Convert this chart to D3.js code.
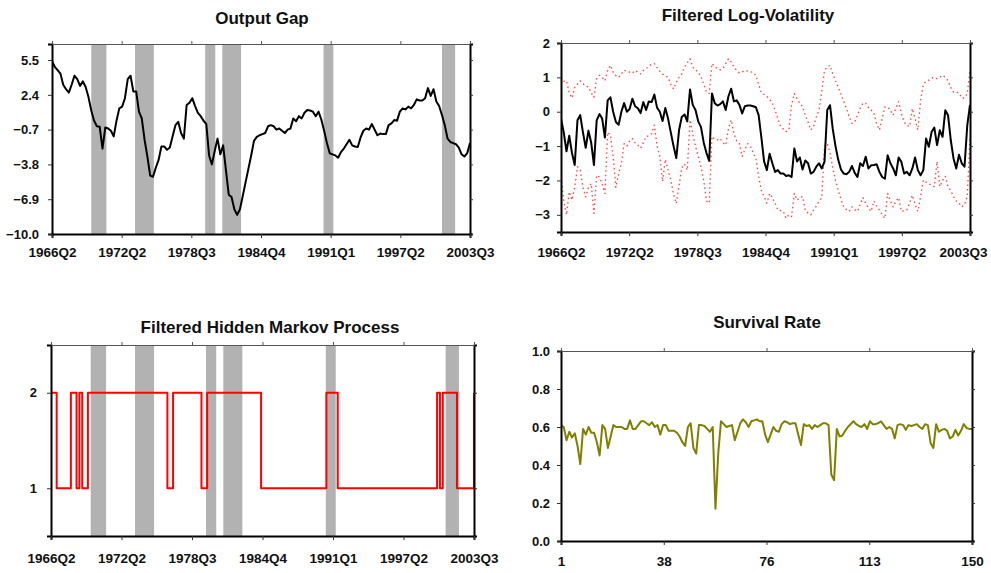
<!DOCTYPE html>
<html><head><meta charset="utf-8">
<script src="https://cdn.jsdelivr.net/npm/d3@7/dist/d3.min.js"></script>
<style>
body{margin:0;background:#fff}
svg{display:block}
text{font-family:"Liberation Sans",Arial,sans-serif;font-weight:bold;fill:#111}
</style>
</head><body>
<svg id="chart" width="991" height="573"></svg>
<script>
// ---------- data ----------
const dateTickLabels = ["1966Q2","1972Q2","1978Q3","1984Q4","1991Q1","1997Q2","2003Q3"];
const gapTicks = [-10.0,-6.9,-3.8,-0.7,2.4,5.5];
const volTicks = [-3,-2,-1,0,1,2];
const stateTicks = [1,2];
const survTicks = [0.0,0.2,0.4,0.6,0.8,1.0];
const survXTickLabels = [1,38,76,113,150];

// recession periods (start / end, quarter index from 1966Q2)
const recessions = [[14.0,19.4],[29.6,36.3],[54.6,58.2],[60.7,67.4],[96.8,100.3],[139.0,143.7]];

const outputGap = [5.4,4.9,4.6,4.3,3.3,2.9,2.6,3.3,4.1,3.8,3.2,3.6,3.1,2.2,1.0,0.1,-0.4,-0.45,-2.4,-0.5,
 -0.6,-0.8,-1.3,0.1,1.2,1.35,2.1,3.8,4.1,2.7,2.7,0.9,0.3,-1.6,-3.1,-4.8,-4.9,-4.1,-3.4,-2.2,
 -2.2,-2.5,-2.3,-1.3,-0.3,0.0,-1.0,-1.5,1.5,1.7,2.1,1.4,0.8,0.5,0.1,-0.2,-3.0,-3.8,-2.6,-1.5,
 -2.9,-2.1,-4.3,-6.5,-6.7,-7.8,-8.3,-7.8,-6.6,-5.4,-4.2,-3.0,-1.7,-1.35,-1.2,-1.1,-1.0,-0.4,-0.3,-0.4,
 -0.7,-0.6,-0.8,-1.0,-0.7,-0.6,0.3,0.05,0.5,0.3,0.8,1.05,1.0,0.9,0.5,0.9,0.2,-0.8,-1.9,-2.8,
 -2.9,-3.0,-3.2,-2.7,-2.4,-2.0,-1.6,-2.1,-2.2,-2.25,-1.4,-0.8,-0.6,-0.7,-0.2,-0.7,-1.2,-1.05,-1.1,-1.1,
 -0.3,-0.15,0.15,0.1,0.9,1.2,1.1,1.35,1.2,1.5,2.0,1.9,1.9,2.1,3.0,2.3,2.9,1.8,1.4,0.6,
 -0.3,-1.5,-1.8,-1.9,-2.0,-2.3,-2.9,-3.1,-2.8,-1.9];

const logVol = [-0.2,-0.6,-1.15,-0.7,-1.2,-1.55,-0.25,-0.1,-0.6,-1.05,-0.55,-0.9,-1.55,-0.25,-0.07,-0.2,-0.75,0.33,0.42,0.0,
 -0.3,-0.38,0.0,0.25,0.0,0.08,0.38,0.16,0.1,-0.04,0.28,0.05,0.3,0.28,0.5,0.12,0.0,-0.27,0.11,-0.2,
 -0.6,-1.0,-1.35,-0.54,-0.15,-0.08,-0.28,0.65,0.2,0.05,-0.28,-0.45,-0.9,-1.2,-1.43,0.53,0.25,0.18,0.22,0.3,
 0.05,0.45,0.67,0.3,0.33,0.2,-0.05,0.16,0.18,0.18,0.16,0.13,-0.1,-0.75,-1.45,-1.7,-1.22,-1.5,-1.75,-1.7,
 -1.8,-1.8,-1.87,-1.85,-1.9,-1.07,-1.45,-1.33,-1.68,-1.42,-1.5,-1.8,-1.75,-1.6,-1.5,-1.65,-1.45,0.05,0.19,-0.5,
 -1.0,-1.4,-1.68,-1.8,-1.82,-1.75,-1.58,-1.78,-1.9,-1.5,-1.58,-1.31,-1.65,-1.56,-1.55,-1.53,-1.75,-1.9,-1.95,-1.27,
 -1.5,-1.65,-1.85,-1.33,-1.46,-1.8,-1.75,-1.85,-1.65,-1.33,-1.7,-1.85,-1.7,-0.78,-1.02,-0.59,-0.46,-0.97,-0.54,-0.73,
 0.04,-0.1,-0.83,-1.36,-1.65,-1.25,-1.5,-1.6,-0.4,0.2];

const logVolUpper = [1.0,0.88,0.9,0.55,0.4,0.7,0.8,0.9,0.82,0.75,0.72,0.55,0.42,0.96,1.06,1.0,0.9,1.2,1.35,1.15,
 1.05,1.0,1.1,1.21,1.18,1.15,1.12,1.2,1.15,1.1,1.2,1.25,1.33,1.38,1.4,1.28,1.18,1.1,1.05,1.0,
 0.8,0.66,0.85,1.0,1.1,1.3,1.42,1.54,1.3,1.22,1.15,1.02,0.8,0.57,0.53,1.4,1.32,1.25,1.22,1.25,
 1.4,1.54,1.45,1.3,1.2,1.13,1.16,1.2,1.18,1.16,1.15,1.05,0.8,0.55,0.5,0.45,0.36,0.25,0.05,-0.2,
 -0.43,-0.5,-0.58,-0.53,0.2,0.53,0.38,0.25,0.15,-0.1,-0.3,-0.53,-0.43,-0.15,0.05,0.6,1.2,1.3,1.35,1.1,
 0.9,0.72,0.5,0.3,0.1,-0.15,-0.34,-0.3,-0.1,0.1,0.25,0.25,0.12,0.05,-0.05,-0.35,-0.53,-0.2,0.14,0.14,
 0.05,-0.1,0.1,0.29,-0.05,-0.3,-0.4,-0.43,0.09,-0.2,-0.53,0.33,0.8,0.88,0.92,0.98,1.0,0.96,1.0,1.06,
 1.0,0.9,0.7,0.57,0.57,0.55,0.4,0.4,0.53,1.2];

const logVolLower = [-1.9,-2.6,-3.0,-2.33,-2.57,-2.2,-1.6,-1.7,-2.2,-2.48,-2.2,-2.09,-2.96,-1.85,-1.9,-2.1,-2.38,-0.6,-0.68,-1.3,
 -2.2,-1.8,-1.5,-0.93,-1.0,-0.85,-0.78,-0.9,-0.97,-1.06,-0.9,-0.72,-0.7,-0.64,-0.39,-1.0,-1.3,-2.03,-1.39,-1.69,
 -2.0,-2.4,-2.67,-2.16,-1.63,-1.52,-1.7,-0.24,-0.64,-1.0,-1.3,-1.6,-2.0,-2.6,-2.66,-0.72,-0.8,-0.82,-0.78,-0.9,
 -0.97,-0.5,-0.24,-0.64,-0.85,-0.93,-1.3,-1.1,-0.93,-1.0,-1.2,-1.35,-1.88,-2.3,-2.47,-2.66,-2.38,-2.5,-2.66,-2.86,
 -2.88,-2.9,-3.1,-3.0,-3.05,-2.38,-2.57,-2.5,-2.47,-2.86,-2.95,-3.0,-2.86,-2.75,-2.6,-2.5,-1.0,-0.93,-1.2,-1.63,
 -2.0,-2.28,-2.55,-2.77,-2.85,-2.9,-2.77,-2.85,-2.9,-2.7,-2.5,-2.66,-2.8,-2.9,-2.6,-2.75,-2.86,-3.0,-3.1,-2.38,
 -2.6,-2.77,-2.6,-2.5,-2.9,-2.88,-2.86,-2.65,-2.43,-2.7,-2.9,-2.47,-1.99,-2.05,-2.09,-2.15,-2.18,-1.45,-2.18,-2.0,
 -1.88,-2.18,-2.3,-2.47,-2.6,-2.66,-2.77,-2.7,-2.47,-0.72];

const hiddenState = [2,2,1,1,1,1,1,2,2,1,2,1,1,2,2,2,2,2,2,2,
 2,2,2,2,2,2,2,2,2,2,2,2,2,2,2,2,2,2,2,2,
 2,1,1,2,2,2,2,2,2,2,2,2,2,1,1,2,2,2,2,2,
 2,2,2,2,2,2,2,2,2,2,2,2,2,2,1,1,1,1,1,1,
 1,1,1,1,1,1,1,1,1,1,1,1,1,1,1,1,1,2,2,2,
 2,1,1,1,1,1,1,1,1,1,1,1,1,1,1,1,1,1,1,1,
 1,1,1,1,1,1,1,1,1,1,1,1,1,1,1,1,2,1,2,2,
 2,2,2,1,1,1,1,1,1,2];

const survivalRate = [0.61,0.6,0.53,0.575,0.545,0.567,0.5,0.405,0.59,0.56,0.6,0.57,0.57,0.52,0.45,0.61,0.59,0.49,0.55,0.61,
 0.6,0.6,0.6,0.59,0.59,0.635,0.59,0.59,0.61,0.63,0.63,0.62,0.61,0.625,0.6,0.61,0.56,0.61,0.61,0.58,
 0.58,0.58,0.57,0.55,0.52,0.5,0.6,0.62,0.49,0.46,0.61,0.61,0.605,0.59,0.575,0.6,0.17,0.46,0.63,0.615,
 0.6,0.605,0.61,0.53,0.575,0.62,0.64,0.625,0.6,0.63,0.635,0.64,0.63,0.63,0.56,0.52,0.56,0.6,0.58,0.575,
 0.615,0.63,0.625,0.615,0.62,0.62,0.56,0.505,0.615,0.605,0.61,0.59,0.61,0.6,0.61,0.62,0.62,0.61,0.35,0.32,
 0.59,0.55,0.555,0.58,0.6,0.615,0.63,0.615,0.605,0.6,0.615,0.59,0.63,0.615,0.615,0.62,0.63,0.61,0.59,0.6,
 0.59,0.54,0.61,0.615,0.61,0.585,0.61,0.605,0.61,0.615,0.6,0.59,0.615,0.61,0.515,0.49,0.615,0.575,0.585,0.59,
 0.58,0.54,0.55,0.585,0.555,0.58,0.615,0.595,0.59,0.59];

// ---------- drawing ----------
const svg = d3.select("#chart");
const W = 991;

function drawPanel(o) {
  const g = svg.append("g");
  const x = d3.scaleLinear().domain(o.xDomain).range([o.left, o.right]);
  const y = d3.scaleLinear().domain(o.yDomain).range([o.bottom, o.top]);

  if (o.bands) {
    g.selectAll("rect.band").data(o.bands).enter().append("rect")
      .attr("x", d => x(d[0])).attr("width", d => x(d[1]) - x(d[0]))
      .attr("y", o.top).attr("height", o.bottom - o.top)
      .attr("fill", "#b2b2b2");
  }

  const clipId = "clip" + Math.round(o.left) + "_" + Math.round(o.top);
  svg.append("clipPath").attr("id", clipId).append("rect")
    .attr("x", o.left).attr("y", o.top - 2).attr("width", o.right - o.left + 2).attr("height", o.bottom - o.top + 4);

  o.series.forEach(s => {
    const line = d3.line().x((d, i) => x(o.xValue(i))).y(d => y(d));
    if (s.curve) line.curve(s.curve);
    g.append("path").datum(s.values)
      .attr("clip-path", `url(#${clipId})`)
      .attr("d", line).attr("fill", "none")
      .attr("stroke", s.color).attr("stroke-width", s.width)
      .attr("stroke-dasharray", s.dash || null)
      .attr("stroke-opacity", s.opacity || 1)
      .attr("stroke-linejoin", "round");
  });

  // axes
  const xPos = o.xTickPositions;
  const yAxis = d3.axisLeft(y).tickValues(o.yTicks).tickSize(4).tickPadding(o.yPad).tickFormat(o.yFormat);
  const yAxisR = d3.axisRight(y).tickValues(o.yTicks).tickSize(3).tickFormat("");
  const xAxis = d3.axisBottom(x).tickValues(xPos).tickSize(4).tickPadding(o.xPad)
    .tickFormat((d, i) => o.xLabels[i]);
  const xAxisT = d3.axisTop(x).tickValues(xPos).tickSize(3).tickFormat("");

  const gl = g.append("g").attr("transform", `translate(${o.left},0)`).call(yAxis);
  const gr = g.append("g").attr("transform", `translate(${o.right},0)`).call(yAxisR);
  const gb = g.append("g").attr("transform", `translate(0,${o.bottom})`).call(xAxis);
  const gt = g.append("g").attr("transform", `translate(0,${o.top})`).call(xAxisT);

  [gl, gr, gb].forEach(a => {
    a.select(".domain").attr("stroke", "#000").attr("stroke-width", 2);
    a.selectAll(".tick line").attr("stroke", "#333").attr("stroke-width", 1);
  });
  gt.select(".domain").attr("stroke", "#555").attr("stroke-width", 1);
  gt.selectAll(".tick line").attr("stroke", "#555");

  gl.selectAll("text").attr("font-size", 13).attr("fill", "#111")
    .attr("font-family", "Liberation Sans, Arial, sans-serif").attr("font-weight", "bold");
  gb.selectAll("text").attr("font-size", 13.5).attr("fill", "#111")
    .attr("font-family", "Liberation Sans, Arial, sans-serif").attr("font-weight", "bold");
  // keep edge labels inside the canvas
  gb.selectAll(".tick text").each(function () {
    const b = this.getBBox();
    const tx = d3.select(this.parentNode).attr("transform");
    const px = +tx.match(/translate\(([-\d.]+)/)[1];
    const over = px + b.x + b.width - (W - 3);
    if (over > 0) d3.select(this).attr("x", -over);
  });

  g.append("text").attr("x", o.titleX).attr("y", o.titleY)
    .attr("text-anchor", "middle").attr("font-size", 17).text(o.title);
}

const idx = i => i;
const datePositions = d3.range(7).map(k => 149 * k / 6);

drawPanel({
  title: "Output Gap", titleX: 262, titleY: 24,
  left: 52, right: 470, top: 44, bottom: 234, yPad: 9, xPad: 9,
  xDomain: [0, 149], yDomain: [-10, 6.93], xValue: idx,
  xTickPositions: datePositions, xLabels: dateTickLabels,
  yTicks: gapTicks, yFormat: d3.format(".1f"),
  bands: recessions,
  series: [{values: outputGap, color: "#000", width: 2}]
});

drawPanel({
  title: "Filtered Log-Volatility", titleX: 748, titleY: 21,
  left: 561, right: 970, top: 43, bottom: 232, yPad: 7, xPad: 11,
  xDomain: [0, 149], yDomain: [-3.5, 2.0], xValue: idx,
  xTickPositions: datePositions, xLabels: dateTickLabels,
  yTicks: volTicks, yFormat: d3.format("d"),
  series: [
    {values: logVolUpper, color: "#ff0000", width: 1.3, dash: "1.5,3", opacity: 0.75},
    {values: logVolLower, color: "#ff0000", width: 1.3, dash: "1.5,3", opacity: 0.75},
    {values: logVol, color: "#000", width: 2}
  ]
});

drawPanel({
  title: "Filtered Hidden Markov Process", titleX: 270, titleY: 333,
  left: 51, right: 474, top: 345, bottom: 536, yPad: 10, xPad: 13,
  xDomain: [0, 149], yDomain: [0.5, 2.5], xValue: idx,
  xTickPositions: datePositions, xLabels: dateTickLabels,
  yTicks: stateTicks, yFormat: d3.format("d"),
  bands: recessions,
  series: [{values: hiddenState, color: "#ff0000", width: 2, curve: d3.curveStepAfter}]
});

drawPanel({
  title: "Survival Rate", titleX: 767, titleY: 328,
  left: 561, right: 972, top: 351, bottom: 541, yPad: 7, xPad: 11,
  xDomain: [1, 150], yDomain: [0, 1], xValue: i => i + 1,
  xTickPositions: d3.range(5).map(k => 1 + 149 * k / 4), xLabels: survXTickLabels,
  yTicks: survTicks, yFormat: d3.format(".1f"),
  series: [{values: survivalRate, color: "#808000", width: 2}]
});
</script>
</body></html>
